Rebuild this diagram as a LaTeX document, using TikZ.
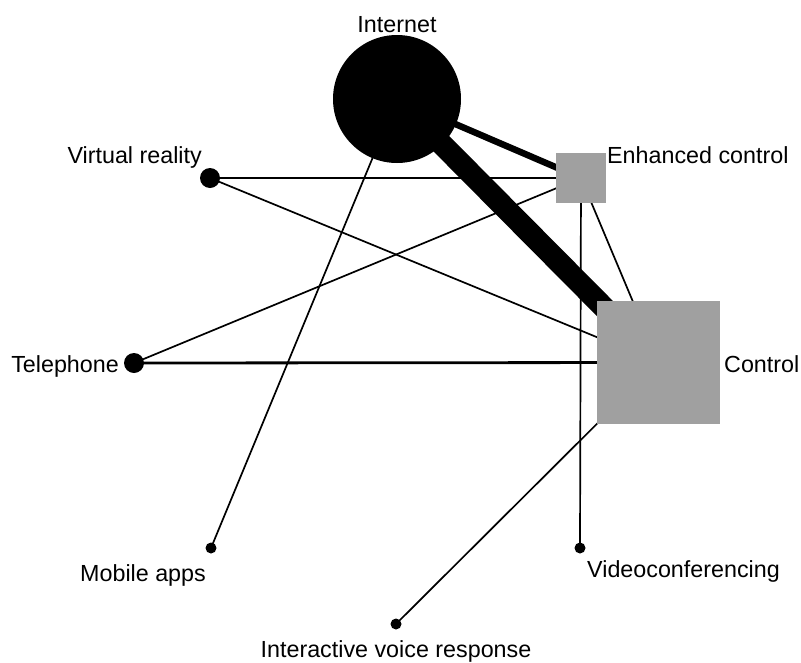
\documentclass[tikz,border=0pt]{standalone}
\usepackage{fontspec}
\setmainfont{Liberation Sans}
\usetikzlibrary{backgrounds}
\definecolor{boxgray}{RGB}{160,160,160}
\tikzset{x=1pt,y=-1pt,
 dot/.style={circle,fill=black,inner sep=0pt,minimum size=#1},
 graybox/.style={rectangle,fill=boxgray,inner sep=0pt,minimum size=#1},
 lbl/.style={inner sep=0pt,font=\fontsize{23.3}{28}\selectfont},
 link/.style={draw,line width=1.7pt},
 }

\begin{document}
\begin{tikzpicture}
        \useasboundingbox (0,0) rectangle (801,662);
        % treatments
        \node[dot=128pt] (internet) at (397,99) {};
        \node[graybox=50pt] (enhanced) at (581,178) {};
        \node[graybox=123pt] (control) at (658.5,362.5) {};
        \node[dot=20pt] (vr) at (210,178) {};
        \node[dot=20pt] (phone) at (134,363) {};
        \node[dot=11pt] (mobile) at (211,548) {};
        \node[dot=11pt] (video) at (580,548) {};
        \node[dot=11pt] (ivr) at (396,624) {};
        % labels
        \node[lbl,anchor=base] (internetlbl) at (397,32) {Internet};
        \node[lbl,anchor=base west] (enhancedlbl) at (607,163) {Enhanced control};
        \node[lbl,anchor=base west] (controllbl) at (724,372) {Control};
        \node[lbl,anchor=base east] (vrlbl) at (202,163) {Virtual reality};
        \node[lbl,anchor=base east] (phonelbl) at (119,372) {Telephone};
        \node[lbl,anchor=base west] (mobilelbl) at (80,581) {Mobile apps};
        \node[lbl,anchor=base west] (videolbl) at (587,577) {Videoconferencing};
        \node[lbl,anchor=base] (ivrlbl) at (396,657) {Interactive voice response};
        % comparisons
        \begin{scope}[on background layer]
            \foreach \a/\b in {internet/mobile, vr/enhanced, vr/control, phone/enhanced,
                enhanced/video, enhanced/control, control/ivr} {
                \draw[link] (\a.center) -- (\b.center);
            }
            \draw[link,line width=2.8pt] (phone.center) -- (control.center);
            \draw[link,line width=6.5pt] (internet.center) -- (enhanced.center);
            \draw[link,line width=22pt] (internet.center) -- (control.center);
        \end{scope}
    \end{tikzpicture}
\end{document}
